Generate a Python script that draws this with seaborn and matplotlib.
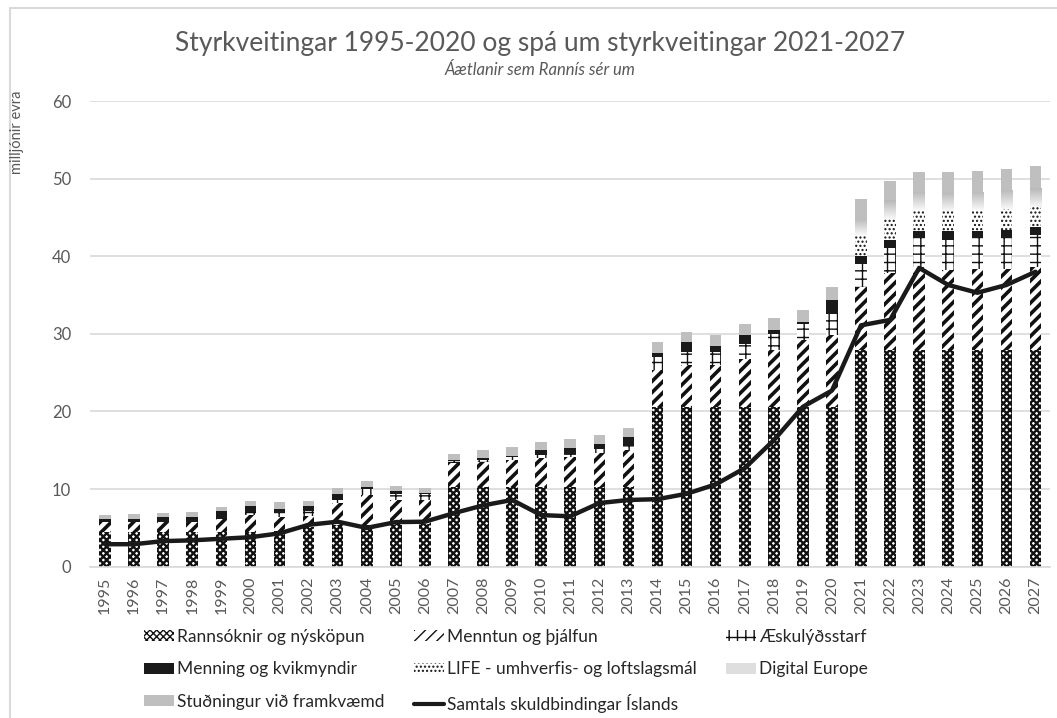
import numpy as np
import matplotlib
matplotlib.use("Agg")
import matplotlib.pyplot as plt
from matplotlib.patches import Patch
from matplotlib.lines import Line2D
import seaborn as sns

years = [str(y) for y in range(1995, 2028)]

rannsoknir = [4.5, 4.5, 4.5, 4.5, 4.5, 4.5, 4.6, 5.1, 5.4, 5.4, 5.4, 5.5,
              10.3, 10.3, 10.3, 10.3, 10.3, 10.3, 10.3,
              20.6, 20.6, 20.6, 20.6, 20.6, 20.6, 20.6,
              27.9, 27.9, 27.9, 27.9, 27.9, 27.9, 27.9]
menntun = [1.2, 1.2, 1.3, 1.3, 1.6, 2.15, 1.75, 1.4, 2.75, 3.8, 3.2, 3.1,
           3.0, 3.2, 3.5, 3.65, 3.8, 4.3, 4.7,
           4.7, 5.4, 5.4, 6.1, 7.3, 8.6, 9.3,
           8.15, 9.9, 10.7, 10.3, 10.5, 10.5, 10.7]
aeskulydsstarf = [0, 0, 0, 0, 0, 0.35, 0.6, 0.7, 0.45, 0.75, 0.8, 0.8,
                  0.3, 0.3, 0.4, 0.45, 0.4, 0.6, 0.5,
                  1.7, 1.7, 1.7, 2.0, 2.1, 2.1, 2.6,
                  3.0, 3.2, 3.7, 3.9, 3.9, 4.0, 4.1]
menning = [0.4, 0.45, 0.6, 0.6, 1.1, 0.8, 0.55, 0.6, 0.8, 0.35, 0.3, 0.15,
           0.1, 0.2, 0.1, 0.6, 0.8, 0.6, 1.2,
           0.55, 1.3, 0.7, 1.1, 0.5, 0.25, 1.8,
           0.95, 1.1, 1.0, 1.2, 1.0, 1.0, 1.1]
life = [0] * 26 + [2.7, 2.7, 2.6, 2.5, 2.6, 2.7, 2.6]
digital = [0] * 26 + [2.1, 2.4, 2.4, 2.4, 2.4, 2.5, 2.4]
studningur = [0.55, 0.6, 0.55, 0.6, 0.5, 0.65, 0.9, 0.7, 0.7, 0.7, 0.7, 0.65,
              0.8, 1.1, 1.1, 1.1, 1.1, 1.2, 1.2,
              1.45, 1.3, 1.4, 1.5, 1.6, 1.5, 1.7,
              2.6, 2.5, 2.6, 2.7, 2.7, 2.7, 2.8]
samtals = [2.9, 2.9, 3.3, 3.4, 3.6, 3.8, 4.3, 5.4, 5.8, 5.0, 5.75, 5.8,
           6.9, 7.9, 8.6, 6.65, 6.5, 8.2, 8.6,
           8.7, 9.4, 10.6, 12.7, 16.3, 20.6, 22.7,
           31.1, 31.8, 38.5, 36.3, 35.3, 36.3, 38.0]

labels = ["Rannsóknir og nýsköpun", "Menntun og þjálfun", "Æskulýðsstarf",
          "Menning og kvikmyndir", "LIFE - umhverfis- og loftslagsmál",
          "Digital Europe", "Stuðningur við framkvæmd"]
line_label = "Samtals skuldbindingar Íslands"

sns.set_theme(style="white")
plt.rcParams["font.family"] = ["Lato", "DejaVu Sans"]
TXT = "#595959"

fig = plt.figure(figsize=(10.57, 7.18), dpi=100)
ax = fig.add_axes([0.0856, 0.2107, 0.9934 - 0.0856, 0.8593 - 0.2107])

styles = [
    dict(color="white", hatch="xxxxx", edgecolor="#111111", hlw=1.7),
    dict(color="white", hatch="///", edgecolor="#111111", hlw=2.6),
    dict(color="white", hatch="++", edgecolor="#111111", hlw=1.0),
    dict(color="#1a1a1a", hatch=None, edgecolor="#1a1a1a", hlw=1.0),
    dict(color="white", hatch="....", edgecolor="#111111", hlw=1.0),
    dict(color="#dedede", hatch=None, edgecolor="#dedede", hlw=1.0),
    dict(color="#bfbfbf", hatch=None, edgecolor="#bfbfbf", hlw=1.0),
]
series = [rannsoknir, menntun, aeskulydsstarf, menning, life, digital, studningur]

bottom = np.zeros(len(years))
containers = []
for lab, vals, st in zip(labels, series, styles):
    sns.barplot(x=years, y=vals, bottom=bottom.copy(), color=st["color"],
                saturation=1, width=0.4, errorbar=None, ax=ax,
                hatch=st["hatch"], edgecolor=st["edgecolor"], linewidth=0)
    cont = ax.containers[-1]
    for p in cont:
        if hasattr(p, "set_hatch_linewidth"):
            p.set_hatch_linewidth(st["hlw"])
    containers.append(cont)
    bottom = bottom + np.array(vals)

# gradient fill for Digital Europe
grad = np.linspace(0.72, 0.97, 64).reshape(-1, 1)
for p in containers[5]:
    bb = p.get_bbox()
    if bb.height <= 0:
        continue
    im = ax.imshow(grad, extent=(bb.x0, bb.x1, bb.y0, bb.y1), aspect="auto",
                   cmap="gray", vmin=0, vmax=1, interpolation="bicubic",
                   zorder=p.get_zorder() + 0.1)
    im.set_clip_path(p)

sns.pointplot(x=years, y=samtals, color="#1a1a1a", markers="", linestyles="-",
              errorbar=None, ax=ax, linewidth=3.2)

ax.set_xlim(-0.5, len(years) - 0.5)
ax.set_ylim(0, 60)
ax.set_yticks(range(0, 61, 10))
ax.set_xlabel("")
ax.set_ylabel("")
ax.yaxis.grid(True, color="#d9d9d9", linewidth=1.2)
ax.xaxis.grid(False)
ax.set_axisbelow(True)
for s in ["left", "right", "top"]:
    ax.spines[s].set_visible(False)
ax.spines["bottom"].set_color("#d9d9d9")
ax.spines["bottom"].set_linewidth(1.2)
ax.tick_params(axis="both", length=0, colors=TXT, labelsize=11.5)
ax.tick_params(axis="x", rotation=90, pad=7)
ax.tick_params(axis="y", pad=14, labelsize=12)

fig.text(0.511, 0.940, "Styrkveitingar 1995-2020 og spá um styrkveitingar 2021-2027",
         ha="center", va="center", fontsize=19, color=TXT)
fig.text(0.511, 0.903, "Áætlanir sem Rannís sér um", ha="center", va="center",
         fontsize=12, color=TXT, style="italic")
fig.text(0.016, 1 - 132 / 718, "milljónir evra", rotation=90, ha="center",
         va="center", fontsize=10.5, color=TXT)

# legend
def mkpatch(st):
    p = Patch(facecolor=st["color"], hatch=st["hatch"], edgecolor=st["edgecolor"], linewidth=0)
    if hasattr(p, "set_hatch_linewidth"):
        p.set_hatch_linewidth(st["hlw"])
    return p

h = [mkpatch(st) for st in styles]
line_h = Line2D([], [], color="#1a1a1a", linewidth=3)
order_h = [h[0], h[3], h[6], h[1], h[4], line_h, h[2], h[5]]
order_l = [labels[0], labels[3], labels[6], labels[1], labels[4], line_label, labels[2], labels[5]]
leg = fig.legend(order_h, order_l, ncol=3, loc="upper left",
                 bbox_to_anchor=(0.136, 0.124), frameon=False, fontsize=12.5,
                 labelcolor="#262626", handlelength=1.75, handleheight=0.6,
                 handletextpad=0.15, labelspacing=0.95, columnspacing=1.7,
                 borderaxespad=0, borderpad=0)

# chart frame (left and top edges visible)
fig.add_artist(Line2D([10 / 1057, 10 / 1057], [-0.1, 1 - 8 / 718],
                      transform=fig.transFigure, color="#d9d9d9", linewidth=1.5))
fig.add_artist(Line2D([10 / 1057, 1.1], [1 - 8 / 718, 1 - 8 / 718],
                      transform=fig.transFigure, color="#d9d9d9", linewidth=1.5))

fig.savefig("out.png", dpi=100)
